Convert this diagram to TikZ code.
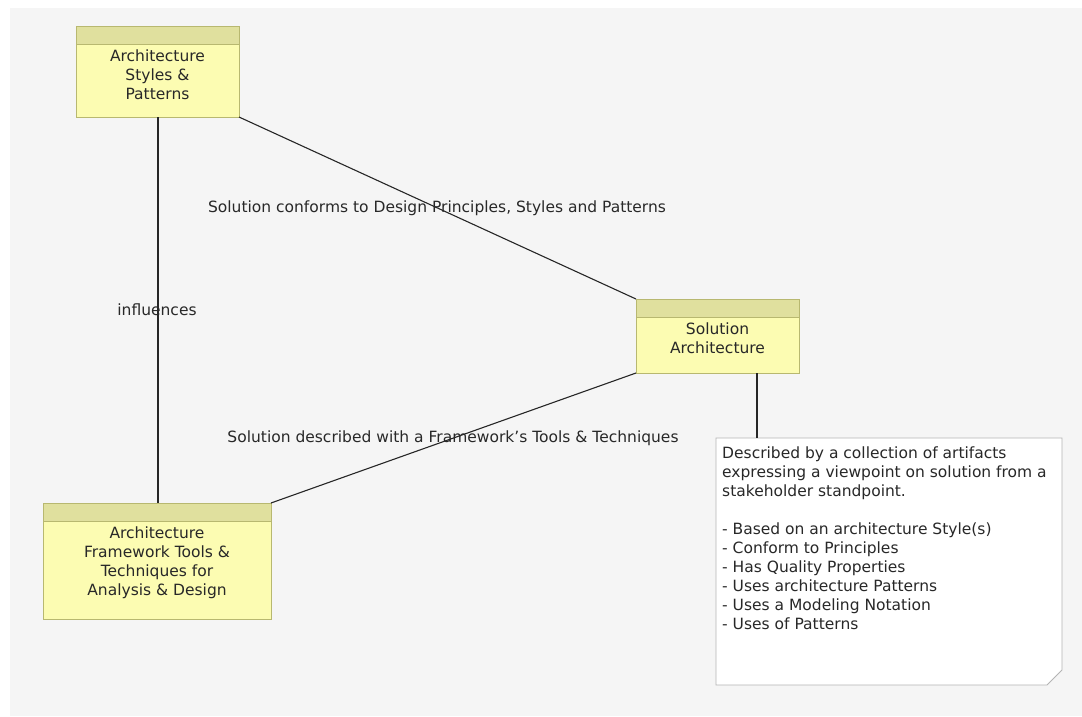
\documentclass[tikz,border=0pt]{standalone}
\usepackage{fontspec}
\setmainfont{DejaVu Sans}
\begin{document}
\definecolor{bgcol}{RGB}{245,245,245}
\definecolor{boxfill}{RGB}{252,252,178}
\definecolor{boxhead}{RGB}{224,224,158}
\definecolor{boxline}{RGB}{184,184,112}
\definecolor{notel}{RGB}{180,180,180}
\definecolor{txt}{RGB}{40,40,40}
\begin{tikzpicture}[x=1pt,y=-1pt,
  lbl/.style={font=\fontsize{15.5}{19}\selectfont, text=txt, inner sep=0pt},
  conn/.style={draw=black!85, line width=1.1pt},
  boxtxt/.style={font=\fontsize{15.5}{19}\selectfont, text=txt, align=center, inner sep=0pt}]
\useasboundingbox (0,0) rectangle (1082,716);
\fill[white] (0,0) rectangle (1082,716);
\fill[bgcol] (10,8) rectangle (1082,716);

% class-like boxes: body and header band; text starts below the band
\newcommand{\umlbox}[6]{%
  \filldraw[fill=boxfill, draw=boxline, line width=0.8pt] (#1,#2) rectangle (#3,#4);
  \filldraw[fill=boxhead, draw=boxline, line width=0.8pt] (#1,#2) rectangle (#3,#2+18);
  \node[boxtxt, anchor=north] (#5) at ({(#1+#3)/2},#2+23.5) {#6};}

\umlbox{76}{26}{239}{117}{asp}{Architecture\\Styles \&\\Patterns}
\umlbox{636}{299}{799}{373}{sol}{Solution\\Architecture}
\umlbox{43}{503}{271}{619}{fw}{Architecture\\Framework Tools \&\\Techniques for\\Analysis \& Design}

\coordinate (aspB) at (158,117);
\coordinate (aspR) at (239,117);
\coordinate (solTL) at (636,299);
\coordinate (solBL) at (636,373);
\coordinate (solB) at (757,373);
\coordinate (fwT) at (158,503);
\coordinate (fwTR) at (271,503);
\coordinate (noteT) at (757,438);

% note with folded corner
\filldraw[fill=white, draw=notel, line width=0.8pt]
  (716,438) -- (1062,438) -- (1062,670) -- (1047,685) -- (716,685) -- cycle;
\node[lbl, anchor=north west, align=left] (note) at (722,446.5)
  {Described by a collection of artifacts\\expressing a viewpoint on solution from a\\stakeholder standpoint.\\[19pt]
   - Based on an architecture Style(s)\\- Conform to Principles\\- Has Quality Properties\\- Uses architecture Patterns\\- Uses a Modeling Notation\\- Uses of Patterns};

% connectors
\draw[conn] (aspB) -- (fwT);
\draw[conn] (aspR) -- (solTL);
\draw[conn] (solBL) -- (fwTR);
\draw[conn] (solB) -- (noteT);

% connector labels
\node[lbl] (l1) at (437,208) {Solution conforms to Design Principles, Styles and Patterns};
\node[lbl] (l2) at (157,310) {influences};
\node[lbl] (l3) at (453,438) {Solution described with a Framework's Tools \& Techniques};
\end{tikzpicture}
\end{document}
